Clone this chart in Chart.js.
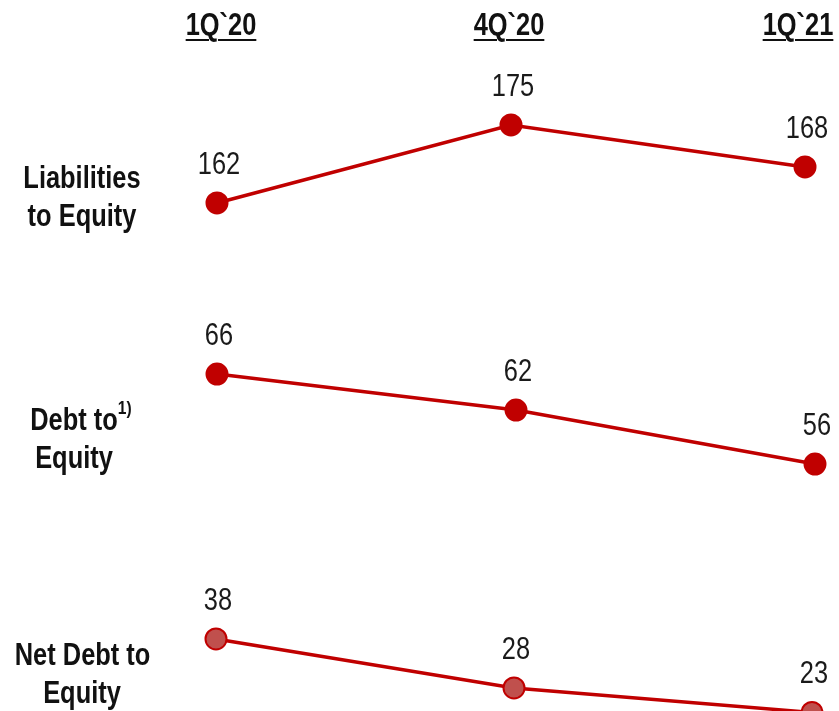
<!DOCTYPE html>
<html lang="en">
<head>
    <meta charset="UTF-8">
    <title>Leverage ratios</title>
    <script src="https://cdn.jsdelivr.net/npm/chart.js"></script>
    <style>
        body { margin: 0; background: #fff; }
        #wrap { position: relative; width: 839px; height: 711px; overflow: hidden;
                font-family: "Liberation Sans", Arial, sans-serif; color: #111; }
        #wrap canvas { position: absolute; left: 0; top: 0; }
        .head { position: absolute; top: 7px; width: 140px; margin-left: -70px; text-align: center;
                font-weight: bold; font-size: 31px; text-decoration: underline; text-decoration-thickness: 2px;
                text-underline-offset: 4px; transform: scaleX(0.82); white-space: nowrap; }
        .rowlabel { position: absolute; left: 0; width: 164px; text-align: center; font-weight: bold;
                    font-size: 31px; line-height: 38px; transform: scaleX(0.82); white-space: nowrap; }
        .rowlabel .note { position: relative; }
        .rowlabel sup { position: absolute; left: 100%; top: -4px; font-size: 19px; line-height: 19px; }
    </style>
</head>
<body>
    <div id="wrap">
        <canvas id="c1" width="839" height="711"></canvas>
        <canvas id="c2" width="839" height="711"></canvas>
        <canvas id="c3" width="839" height="711"></canvas>
        <div class="rowlabel" style="top:159px">Liabilities<br>to Equity</div>
        <div class="rowlabel" style="top:401px; left:-8px"><span class="note">Debt to<sup>1)</sup></span><br>Equity</div>
        <div class="rowlabel" style="top:636px">Net Debt to<br>Equity</div>
    </div>

    <script>
        const periods = ['1Q`20', '4Q`20', '1Q`21'];
        const liabilitiesToEquity = [162, 175, 168];
        const debtToEquity = [66, 62, 56];
        const netDebtToEquity = [38, 28, 23];

        // column headers
        const headX = [221, 509, 798];
        periods.forEach((p, i) => {
            const d = document.createElement('div');
            d.className = 'head';
            d.style.left = headX[i] + 'px';
            d.textContent = p;
            document.getElementById('wrap').appendChild(d);
        });

        // draws the value above every point (condensed by scaling x)
        const valueLabels = {
            id: 'valueLabels',
            afterDatasetsDraw(chart) {
                const ctx = chart.ctx;
                const sx = 0.82;
                ctx.save();
                ctx.font = '31px "Liberation Sans", Arial, sans-serif';
                ctx.fillStyle = '#1a1a1a';
                ctx.textAlign = 'center';
                ctx.textBaseline = 'middle';
                ctx.scale(sx, 1);
                chart.getDatasetMeta(0).data.forEach((pt, i) => {
                    ctx.fillText(chart.data.datasets[0].data[i], (pt.x + 2) / sx, pt.y - 38);
                });
                ctx.restore();
            }
        };

        function makeChart(id, values, yMin, yMax, padLeft, padRight, fill) {
            return new Chart(document.getElementById(id), {
                type: 'line',
                data: {
                    labels: periods,
                    datasets: [{
                        data: values,
                        borderColor: '#c00000',
                        borderWidth: 3.5,
                        pointRadius: 10.5,
                        pointHoverRadius: 10.5,
                        pointBackgroundColor: fill,
                        pointBorderColor: '#c00000',
                        pointBorderWidth: 2,
                        tension: 0,
                        clip: false
                    }]
                },
                options: {
                    responsive: false,
                    animation: false,
                    devicePixelRatio: 1,
                    layout: { autoPadding: false, padding: { left: padLeft, right: padRight, top: 0, bottom: 0 } },
                    plugins: { legend: { display: false }, tooltip: { enabled: false } },
                    scales: {
                        x: { display: false, offset: false },
                        y: { display: false, min: yMin, max: yMax }
                    }
                },
                plugins: [valueLabels]
            });
        }

        makeChart('c1', liabilitiesToEquity, 77.33, 195.83, 217, 34, '#c00000');
        makeChart('c2', debtToEquity, 28.56, 107.56, 217, 24, '#c00000');
        makeChart('c3', netDebtToEquity, 23.3, 168.4, 216, 27, '#c0504d');
    </script>
</body>
</html>
